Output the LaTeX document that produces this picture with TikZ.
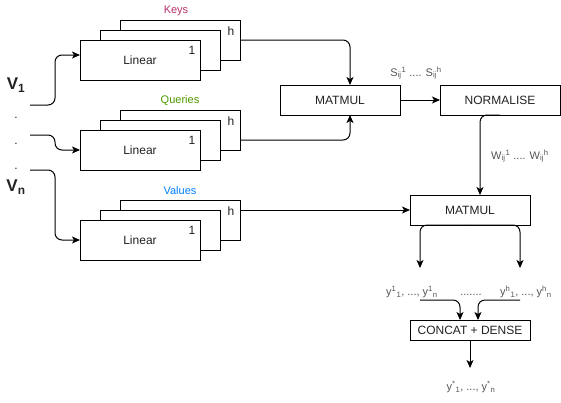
\documentclass[tikz,border=0pt]{standalone}
\usepackage{fontspec}
\setmainfont{Liberation Sans}
\usetikzlibrary{arrows.meta,calc}
\definecolor{keyc}{HTML}{B5316A}
\definecolor{qc}{HTML}{4D9900}
\definecolor{vc}{HTML}{007FFF}
\definecolor{txt}{HTML}{222222}
\definecolor{lblc}{HTML}{555555}
\begin{document}
\begin{tikzpicture}[x=1pt,y=-1pt,
 box/.style={draw,fill=white,line width=1pt,inner sep=0pt,outer sep=0pt,minimum width=120pt,minimum height=40pt,font=\fontsize{12}{14}\selectfont,text=txt},
 opbox/.style={box,minimum height=30pt},
 cbox/.style={box,minimum height=20pt},
 conn/.style={line width=1pt,rounded corners=7pt},
 arr/.style={conn,-{Stealth[length=8pt,width=7pt,inset=2pt]}},
 num/.style={font=\fontsize{12}{14}\selectfont,text=txt,inner sep=0pt},
 grp/.style={font=\fontsize{11}{13}\selectfont,inner sep=0pt},
 lbl/.style={font=\fontsize{11}{13}\selectfont,text=lblc,inner sep=0pt},
 vlab/.style={font=\fontsize{17}{19}\selectfont\bfseries,text=txt,inner sep=0pt},
 dotlab/.style={font=\fontsize{12}{14}\selectfont,text=txt,inner sep=0pt,anchor=base}]
\useasboundingbox (0,0) rectangle (561,402);

% Keys group
\node[box] (k3) at (180,40) {};
\node[box] (k2) at (160,50) {};
\node[box] (k1) at (140,60) {Linear};
\node[num] (k1n) at (192,50) {1};
\node[num] (khn) at (231,31) {h};
\node[grp,text=keyc] (klab) at (176,11) {Keys};

% Queries group
\node[box] (q3) at (180,130) {};
\node[box] (q2) at (160,140) {};
\node[box] (q1) at (140,150) {Linear};
\node[num] (q1n) at (192,140) {1};
\node[num] (qhn) at (231,121) {h};
\node[grp,text=qc] (qlab) at (180,101) {Queries};

% Values group
\node[box] (v3) at (180,220) {};
\node[box] (v2) at (160,230) {};
\node[box] (v1) at (140,240) {Linear};
\node[num] (v1n) at (192,230) {1};
\node[num] (vhn) at (231,211) {h};
\node[grp,text=vc] (vlab) at (180,191) {Values};

% inputs
\node[vlab] (V1) at (16,85) {V\textsubscript{1}};
\node[dotlab] (d1) at (16,118) {.};
\node[dotlab] (d2) at (16,144) {.};
\node[dotlab] (d3) at (16,169) {.};
\node[vlab] (Vn) at (16,187) {V\textsubscript{n}};

\coordinate (s1) at (30,105);
\coordinate (s2) at (30,135);
\coordinate (s3) at (30,170);
\draw[arr] (s1) -- ++(25,0) |- ([yshift=5pt]k1.west);
\draw[arr] (s2) -- ++(25,0) |- (q1.west);
\draw[arr] (s3) -- ++(25,0) |- (v1.west);

% operations
\node[opbox] (m1) at (340,100) {MATMUL};
\node[opbox] (nm) at (500,100) {NORMALISE};
\node[opbox] (m2) at (470,210) {MATMUL};
\node[cbox] (cd) at (470,330) {CONCAT + DENSE};

\draw[arr] (k3.east) -| ([xshift=10pt]m1.north);
\draw[arr] ([yshift=-10pt]q3.east) -| ([xshift=10pt]m1.south);
\draw[arr] (m1.east) -- (nm.west);
\node[lbl] (slab) at (416,73) {S\textsubscript{ij}\textsuperscript{1} .... S\textsubscript{ij}\textsuperscript{h}};
\draw[arr] (nm.south) -| ([xshift=10pt]m2.north);
\node[lbl] (wlab) at (520,156) {W\textsubscript{ij}\textsuperscript{1} .... W\textsubscript{ij}\textsuperscript{h}};
\draw[arr] ([yshift=10pt]v3.east) -- (m2.west);

\coordinate (ya) at (420,268);
\coordinate (yb) at (520,268);
\draw[arr] (m2.south) -| (ya);
\draw[arr] (m2.south) -| (yb);

\node[lbl] (yl) at (412,292) {y\textsuperscript{1}\textsubscript{1}, ..., y\textsuperscript{1}\textsubscript{n}};
\node[lbl] (ydots) at (471,295) {.......};
\node[lbl] (yr) at (526,292) {y\textsuperscript{h}\textsubscript{1}, ..., y\textsuperscript{h}\textsubscript{n}};

\coordinate (la) at (420,300);
\coordinate (lb) at (520,300);
\draw[arr] (la) -| ([xshift=-10pt]cd.north);
\draw[arr] (lb) -| ([xshift=8pt]cd.north);

\coordinate (yo) at (470,368);
\draw[arr] (cd.south) -- (yo);
\node[lbl] (ystar) at (471,387) {y\textsuperscript{*}\textsubscript{1}, ..., y\textsuperscript{*}\textsubscript{n}};
\end{tikzpicture}
\end{document}
